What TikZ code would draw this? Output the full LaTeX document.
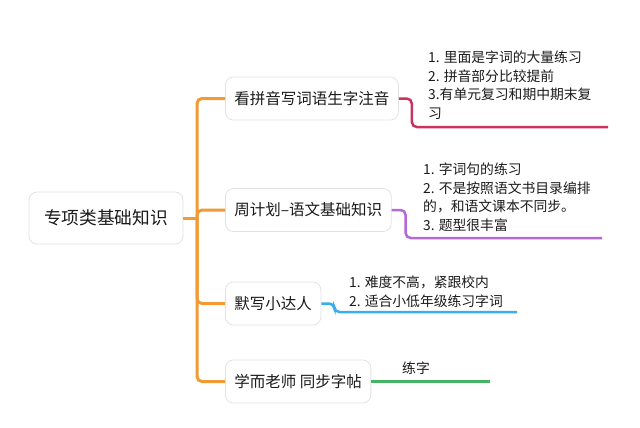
\documentclass[tikz,border=0pt]{standalone}
\usepackage{fontspec}
\setmainfont{Noto Sans CJK SC}
\usepackage{xcolor}
\usepackage{tikz}
\usetikzlibrary{calc,positioning}

\definecolor{trunkorange}{HTML}{F29A33}
\definecolor{notepink}{HTML}{C9345F}
\definecolor{notepurple}{HTML}{B469D6}
\definecolor{noteblue}{HTML}{3AAEE6}
\definecolor{notegreen}{HTML}{45B563}
\definecolor{boxgray}{HTML}{E2E2E2}
\definecolor{textdark}{HTML}{1A1A1A}

\begin{document}
\begin{tikzpicture}[x=1pt,y=-1pt,
    box/.style={draw=boxgray,line width=0.8pt,rounded corners=8pt,fill=white,inner xsep=9pt,minimum height=43pt,font=\fontsize{15.5}{18}\selectfont,text=textdark},
    note/.style={inner sep=0pt,align=left,anchor=north west,font=\fontsize{13.8}{18.7}\selectfont,text=textdark},
    limb/.style={line width=2.5pt,rounded corners=5pt}]
            \useasboundingbox (0,0) rectangle (640,428);
            % main topic and branches
            \node [box,minimum width=154pt,minimum height=52pt,font=\fontsize{17.7}{20}\selectfont] (root) at (106,218) {专项类基础知识};
            \node [box,anchor=west] (kan) at (225,98.5) {看拼音写词语生字注音};
            \node [box,anchor=west] (zhou) at (225,210) {周计划–语文基础知识};
            \node [box,anchor=west] (moxie) at (225,303.5) {默写小达人};
            \node [box,anchor=west] (xueer) at (225,381.5) {学而老师 同步字帖};
            \coordinate (fork) at (197,218);
            \draw [trunkorange,line width=3pt] (root.east) -- (fork);
            \foreach \b in {kan,zhou,moxie,xueer}
                \draw [trunkorange,limb,line width=3pt] (fork) |- (\b.west);
            % notes
            \node [note] (kannote) at (428,50.5) {1. 里面是字词的大量练习\\2. 拼音部分比较提前\\3.有单元复习和期中期末复\\习};
            \node [note] (zhounote) at (423,162.5) {1. 字词句的练习\\2. 不是按照语文书目录编排\\的，和语文课本不同步。\\3. 题型很丰富};
            \node [note] (moxienote) at (349,275.5) {1. 难度不高，紧跟校内\\2. 适合小低年级练习字词};
            \node [note] (xueernote) at (402,361.5) {练字};
            \coordinate (kanend) at (608,127);
            \coordinate (zhouend) at (602,238);
            \coordinate (moxieend) at (517,312);
            \coordinate (xueerend) at (490,381.5);
            \draw [notepink,limb] (kan.east) -- ++(13,0) |- (kanend);
            \draw [notepurple,limb] (zhou.east) -- ++(14,0) |- (zhouend);
            \draw [noteblue,limb] (moxie.east) -- ++(13,0) |- (moxieend);
            \draw [notegreen,limb] (xueer.east) -- (xueerend);
\end{tikzpicture}
\end{document}
